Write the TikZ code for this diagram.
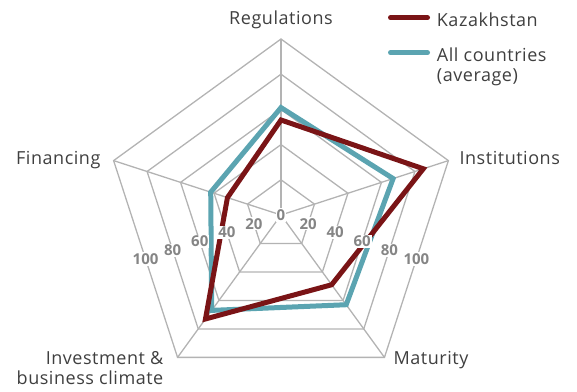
\documentclass[tikz,border=0pt]{standalone}
\usepackage{fontspec}
\setmainfont{Open Sans}
\newfontfamily\labfont[LetterSpace=3]{Open Sans}
\usetikzlibrary{positioning}

\definecolor{kzred}{HTML}{7A1416}
\definecolor{avgteal}{HTML}{5BA4B1}
\definecolor{gridgray}{HTML}{B3B3B3}
\definecolor{textgray}{HTML}{3F3F3F}
\definecolor{numgray}{HTML}{858585}

\begin{document}
\begin{tikzpicture}[x=1pt,y=1pt,
  gridline/.style={gridgray, line width=1.3pt},
  kzline/.style={kzred, line width=5pt},
  avgline/.style={avgteal, line width=5pt},
  axislabel/.style={text=textgray, inner sep=0pt, font=\labfont\fontsize{18}{19.5}\selectfont},
  ticklabel/.style={text=numgray, fill=white, inner sep=1pt, font=\fontsize{15}{18}\selectfont\bfseries}]
\useasboundingbox (-281,-176) rectangle (296,215);

% corners of the outer pentagon
\coordinate (reg) at (90:176);
\coordinate (inst) at (18:176);
\coordinate (mat) at (-54:176);
\coordinate (inv) at (-126:176);
\coordinate (fin) at (162:176);
\coordinate (c) at (0,0);

% grid
\foreach \r in {35.2,70.4,105.6,140.8,176}
  \draw[gridline] (90:\r) -- (18:\r) -- (-54:\r) -- (-126:\r) -- (162:\r) -- cycle;
\foreach \p in {reg,inst,mat,inv,fin}
  \draw[gridline] (c) -- (\p);

% all countries, then Kazakhstan
\draw[avgline] (90:107.4) -- (18:117.9) -- (-54:110.9) -- (-126:117.9) -- (162:73.9) -- cycle;
\draw[kzline] (90:95.0) -- (18:149.6) -- (-54:86.2) -- (-126:128.5) -- (162:56.3) -- cycle;

% scale
\node[ticklabel] (t0) at (c) {0};
\foreach \v/\d in {20/28.5,40/56.9,60/85.4,80/113.9,100/142.4} {
  \node[ticklabel] (tl\v) at (198:\d) {\v};
  \node[ticklabel] (tr\v) at (-18:\d) {\v};
}

% axis names
\node[axislabel, anchor=base, yshift=14pt] (lreg) at (reg) {Regulations};
\node[axislabel, anchor=base west, xshift=11pt, yshift=-4pt] (linst) at (inst) {Institutions};
\node[axislabel, anchor=base west, xshift=9pt, yshift=-7pt] (lmat) at (mat) {Maturity};
\node[axislabel, anchor=north east, align=right, xshift=-14pt, yshift=6pt] (linv) at (inv) {Investment \&\\business climate};
\node[axislabel, anchor=base east, xshift=-13pt, yshift=-4pt] (lfin) at (fin) {Financing};

% legend
\coordinate (kza) at (109.5,197.3);
\coordinate (kzb) at (146.5,197.3);
\coordinate (avga) at (109.5,162.3);
\coordinate (avgb) at (146.5,162.3);
\draw[kzline, line cap=round] (kza) -- (kzb);
\draw[avgline, line cap=round] (avga) -- (avgb);
\node[axislabel, anchor=base west] (kzlab) at (155.7,188.3) {Kazakhstan};
\node[axislabel, anchor=base west, align=left] (avglab) at (155.7,134) {All countries\\(average)};
\end{tikzpicture}
\end{document}
